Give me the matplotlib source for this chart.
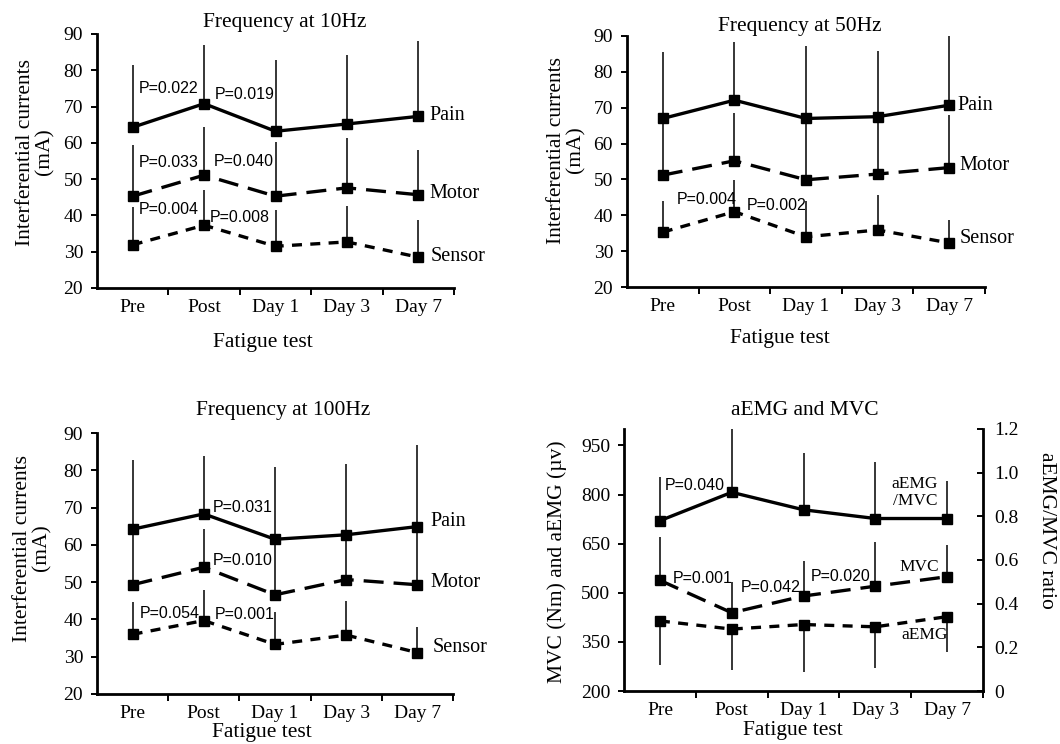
import numpy as np
import matplotlib.pyplot as plt
from matplotlib.ticker import FixedLocator

plt.rcParams['font.family'] = ['Liberation Serif', 'DejaVu Serif']

W, H = 1060, 744

stages = ['Pre', 'Post', 'Day 1', 'Day 3', 'Day 7']

# ---- Frequency at 10Hz (mean, top of error bar) ----
hz10_pain = [64.3, 70.8, 63.2, 65.2, 67.3]
hz10_pain_top = [81.5, 86.9, 82.7, 84.3, 88.0]
hz10_motor = [45.3, 51.1, 45.3, 47.6, 45.7]
hz10_motor_top = [59.3, 64.4, 60.1, 61.3, 57.9]
hz10_sensor = [31.9, 37.3, 31.5, 32.7, 28.5]
hz10_sensor_top = [42.3, 47.1, 41.6, 42.5, 38.8]

# ---- Frequency at 50Hz ----
hz50_pain = [67.0, 72.1, 67.0, 67.5, 70.7]
hz50_pain_top = [85.4, 88.3, 87.1, 85.8, 90.0]
hz50_motor = [51.2, 55.2, 49.9, 51.5, 53.3]
hz50_motor_top = [67.0, 68.5, 66.0, 67.0, 68.0]
hz50_sensor = [35.3, 41.0, 34.0, 35.9, 32.3]
hz50_sensor_top = [43.9, 49.9, 44.0, 45.6, 38.8]

# ---- Frequency at 100Hz ----
hz100_pain = [64.2, 68.3, 61.5, 62.7, 64.9]
hz100_pain_top = [82.8, 83.9, 80.9, 81.8, 86.9]
hz100_motor = [49.3, 54.0, 46.6, 50.7, 49.3]
hz100_motor_top = [64.0, 64.2, 61.5, 62.7, 64.9]
hz100_sensor = [36.0, 39.7, 33.3, 35.8, 31.1]
hz100_sensor_top = [44.6, 47.9, 42.1, 45.0, 37.9]

# ---- aEMG and MVC ----
ratio = [0.78, 0.91, 0.83, 0.79, 0.79]          # right axis
ratio_top = [0.98, 1.2, 1.09, 1.05, 0.96]
mvc = [538, 439, 490, 520, 549]
mvc_top = [670, 533, 597, 655, 645]
aemg = [414, 389, 403, 396, 427]
aemg_bottom = [279, 264, 259, 269, 320]

SOLID = None
LONG_DASH = (6, 3)
SHORT_DASH = (3, 2.5)

TICK_FS = 14
LABEL_FS = 15.5
NAME_FS = 14.5
P_FS = 11.5

fig = plt.figure(figsize=(W / 100, H / 100), dpi=100)


def px_axes(left, right, top, bottom):
    return fig.add_axes([left / W, 1 - bottom / H, (right - left) / W, (bottom - top) / H])


def ftext(x, y, s, **kw):
    fig.text(x / W, 1 - y / H, s, **kw)


def style_axis(ax):
    for s in ['top', 'right']:
        ax.spines[s].set_visible(False)
    for s in ['left', 'bottom']:
        ax.spines[s].set_linewidth(2.0)
    ax.set_xlim(-0.5, 4.5)
    ax.set_xticks(range(len(stages)))
    ax.set_xticklabels(stages)
    ax.xaxis.set_minor_locator(FixedLocator(np.arange(0.5, 5, 1)))
    ax.tick_params(axis='x', which='major', length=0, pad=8, labelsize=TICK_FS)
    ax.tick_params(axis='x', which='minor', length=5, width=1.4, direction='out')
    ax.tick_params(axis='y', length=4, width=1.4, labelsize=TICK_FS, pad=6)


def series(ax, y, lo, hi, dashes):
    x = np.arange(len(y))
    y = np.asarray(y, dtype=float)
    ax.errorbar(x, y, yerr=[lo, hi], fmt='none', ecolor='black',
                elinewidth=1.1, capsize=0, zorder=1)
    line, = ax.plot(x, y, color='black', lw=2.4, marker='s', ms=7, zorder=3)
    if dashes:
        line.set_dashes(dashes)


def up_series(ax, y, top, dashes):
    y = np.asarray(y, dtype=float)
    series(ax, y, np.zeros_like(y), np.asarray(top) - y, dashes)


def pval(ax, x, y, s):
    ax.text(x, y, s, family=['Liberation Sans'], fontsize=P_FS, va='center', ha='left')


def freq_panel(ax, pain, pain_top, motor, motor_top, sensor, sensor_top, names_y):
    style_axis(ax)
    ax.set_ylim(20, 90)
    ax.set_yticks(range(20, 91, 10))
    up_series(ax, pain, pain_top, SOLID)
    up_series(ax, motor, motor_top, LONG_DASH)
    up_series(ax, sensor, sensor_top, SHORT_DASH)
    for name, (x, y) in zip(['Pain', 'Motor', 'Sensor'], names_y):
        ax.text(x, y, name, fontsize=NAME_FS, va='center', ha='left')


# ---- panel 1 ----
ax1 = px_axes(97, 454, 34, 288)
freq_panel(ax1, hz10_pain, hz10_pain_top, hz10_motor, hz10_motor_top,
           hz10_sensor, hz10_sensor_top, [(4.15, 67.5), (4.15, 46.0), (4.17, 28.7)])
pval(ax1, 0.08, 75.1, 'P=0.022')
pval(ax1, 1.15, 73.3, 'P=0.019')
pval(ax1, 0.08, 54.6, 'P=0.033')
pval(ax1, 1.13, 54.9, 'P=0.040')
pval(ax1, 0.08, 41.6, 'P=0.004')
pval(ax1, 1.08, 39.3, 'P=0.008')
ftext(285, 22, 'Frequency at 10Hz', fontsize=LABEL_FS, ha='center', va='center')
ftext(263, 342, 'Fatigue test', fontsize=LABEL_FS, ha='center', va='center')
ftext(35, 152, 'Interferential currents\n(mA)', fontsize=LABEL_FS, ha='center', va='center',
      rotation=90, linespacing=1.0)

# ---- panel 2 ----
ax2 = px_axes(627, 985, 36, 287)
freq_panel(ax2, hz50_pain, hz50_pain_top, hz50_motor, hz50_motor_top,
           hz50_sensor, hz50_sensor_top, [(4.12, 70.7), (4.14, 53.8), (4.14, 33.4)])
pval(ax2, 0.19, 44.3, 'P=0.004')
pval(ax2, 1.17, 42.6, 'P=0.002')
ftext(800, 26, 'Frequency at 50Hz', fontsize=LABEL_FS, ha='center', va='center')
ftext(780, 338, 'Fatigue test', fontsize=LABEL_FS, ha='center', va='center')
ftext(566, 150, 'Interferential currents\n(mA)', fontsize=LABEL_FS, ha='center', va='center',
      rotation=90, linespacing=1.0)

# ---- panel 3 ----
ax3 = px_axes(97, 453, 433, 694)
freq_panel(ax3, hz100_pain, hz100_pain_top, hz100_motor, hz100_motor_top,
           hz100_sensor, hz100_sensor_top, [(4.19, 66.3), (4.19, 50.0), (4.22, 32.5)])
pval(ax3, 1.12, 70.0, 'P=0.031')
pval(ax3, 1.12, 55.8, 'P=0.010')
pval(ax3, 0.10, 41.7, 'P=0.054')
pval(ax3, 1.15, 41.2, 'P=0.001')
ftext(283, 411, 'Frequency at 100Hz', fontsize=LABEL_FS, ha='center', va='center')
ftext(262, 733, 'Fatigue test', fontsize=LABEL_FS, ha='center', va='center')
ftext(32, 548, 'Interferential currents\n(mA)', fontsize=LABEL_FS, ha='center', va='center',
      rotation=90, linespacing=1.0)

# ---- panel 4 ----
ax4 = px_axes(624, 983, 429, 691)
style_axis(ax4)
ax4.set_ylim(200, 1000)
ax4.set_yticks(range(200, 951, 150))
up_series(ax4, mvc, mvc_top, LONG_DASH)
aemg_arr = np.asarray(aemg, dtype=float)
series(ax4, aemg_arr, aemg_arr - np.asarray(aemg_bottom), np.zeros_like(aemg_arr), SHORT_DASH)

ax4r = ax4.twinx()
ax4r.set_ylim(0, 1.2)
ax4r.set_yticks(np.arange(0, 1.21, 0.2))
ax4r.set_yticklabels(['0', '0.2', '0.4', '0.6', '0.8', '1.0', '1.2'])
for s in ['top', 'left', 'bottom']:
    ax4r.spines[s].set_visible(False)
ax4r.spines['right'].set_linewidth(2.0)
ax4r.tick_params(axis='y', direction='in', length=4, width=1.4, labelsize=TICK_FS, pad=8)
up_series(ax4r, ratio, ratio_top, SOLID)

pval(ax4, 0.07, 828, 'P=0.040')
pval(ax4, 0.18, 545, 'P=0.001')
pval(ax4, 1.13, 517, 'P=0.042')
pval(ax4, 2.10, 550, 'P=0.020')
ax4.text(3.55, 807, 'aEMG\n/MVC', fontsize=12.5, ha='center', va='center', linespacing=1.1)
ax4.text(3.33, 578, 'MVC', fontsize=12.5, ha='left', va='center')
ax4.text(3.36, 371, 'aEMG', fontsize=12.5, ha='left', va='center')
ftext(805, 411, 'aEMG and MVC', fontsize=LABEL_FS, ha='center', va='center')
ftext(793, 731, 'Fatigue test', fontsize=LABEL_FS, ha='center', va='center')
ftext(557, 562, 'MVC (Nm) and aEMG (\u00b5v)', fontsize=LABEL_FS, ha='center', va='center', rotation=90)
ftext(1046, 530, 'aEMG/MVC ratio', fontsize=LABEL_FS, ha='center', va='center', rotation=270)

fig.savefig('out.png', dpi=100)
